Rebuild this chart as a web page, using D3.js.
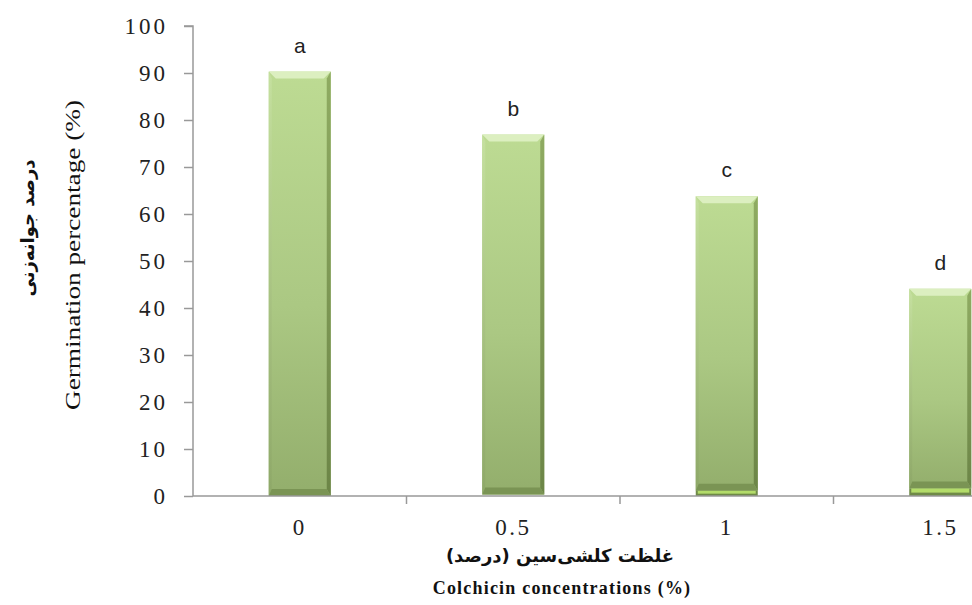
<!DOCTYPE html>
<html>
<head>
<meta charset="utf-8">
<script src="https://cdn.jsdelivr.net/npm/d3@7"></script>
<style>
  body { margin: 0; background: #fff; }
  svg { display: block; }
</style>
</head>
<body>
<svg class="mainSvg" width="972" height="605"></svg>
<script>
// colchicine treatments and germination (%)
var concentrations = ["0", "0.5", "1", "1.5"];
var germination = [90.3, 76.9, 63.8, 44.1];
var baseSegment = [0, 0.3, 1.1, 1.6];   // thin lower segment seen at the bar feet
var letters = ["a", "b", "c", "d"];
var yTicks = [0, 10, 20, 30, 40, 50, 60, 70, 80, 90, 100];

var svg = d3.select(".mainSvg");
var plotLeft = 193, plotTop = 26, plotBottom = 496;
var step = 213.5;

var x = d3.scaleBand()
  .domain(concentrations)
  .range([plotLeft, plotLeft + step * concentrations.length]);

var y = d3.scaleLinear()
  .domain([0, 100])
  .range([plotBottom, plotTop]);

var barW = 62;
var bev = 7;

// gradients
var defs = svg.append("defs");
var g = defs.append("linearGradient").attr("id", "barFill")
  .attr("x1", 0).attr("y1", 0).attr("x2", 0).attr("y2", 1);
g.append("stop").attr("offset", "0%").attr("stop-color", "#bddb93");
g.append("stop").attr("offset", "55%").attr("stop-color", "#abc883");
g.append("stop").attr("offset", "100%").attr("stop-color", "#93ae6c");

var sideL = defs.append("linearGradient").attr("id", "sideL")
  .attr("x1", 0).attr("y1", 0).attr("x2", 0).attr("y2", 1);
sideL.append("stop").attr("offset", "0%").attr("stop-color", "#c5e09f");
sideL.append("stop").attr("offset", "100%").attr("stop-color", "#8ea868");

var sideR = defs.append("linearGradient").attr("id", "sideR")
  .attr("x1", 0).attr("y1", 0).attr("x2", 0).attr("y2", 1);
sideR.append("stop").attr("offset", "0%").attr("stop-color", "#8fab62");
sideR.append("stop").attr("offset", "100%").attr("stop-color", "#6c8547");

var drawBevelBar = function(cx, y0, y1, topColor) {
  var x0 = cx - barW / 2, x1 = cx + barW / 2;
  var h = y0 - y1;
  var b = Math.min(bev, h / 2);
  var grp = svg.append("g");
  grp.append("rect")
    .attr("x", x0).attr("y", y1)
    .attr("width", barW).attr("height", h)
    .attr("fill", "url(#barFill)");
  // top bevel
  grp.append("polygon")
    .attr("points", [[x0, y1], [x1, y1], [x1 - b, y1 + b], [x0 + b, y1 + b]].join(" "))
    .attr("fill", topColor);
  // left bevel
  grp.append("polygon")
    .attr("points", [[x0, y1], [x0 + 3, y1 + b], [x0 + 3, y0 - b], [x0, y0]].join(" "))
    .attr("fill", "url(#sideL)");
  // right bevel
  grp.append("polygon")
    .attr("points", [[x1, y1], [x1 - 4, y1 + b], [x1 - 4, y0 - b], [x1, y0]].join(" "))
    .attr("fill", "url(#sideR)");
  // bottom bevel
  grp.append("polygon")
    .attr("points", [[x0, y0], [x0 + 3, y0 - b], [x1 - 4, y0 - b], [x1, y0]].join(" "))
    .attr("fill", "#7a9454");
};

concentrations.forEach(function(c, i) {
  var cx = x(c) + x.bandwidth() / 2;
  var yBase = y(baseSegment[i]);
  var yTop = y(germination[i]);
  drawBevelBar(cx, yBase, yTop, "#dcefc0");
  if (baseSegment[i] > 0.5) {
    var y0 = y(0);
    var sx0 = cx - barW / 2;
    svg.append("rect").attr("x", sx0).attr("y", yBase)
      .attr("width", barW).attr("height", y0 - yBase).attr("fill", "#6f8a48");
    svg.append("rect").attr("x", sx0 + 2).attr("y", yBase)
      .attr("width", barW - 4).attr("height", Math.max(2, (y0 - yBase) * 0.55))
      .attr("fill", "#b3dc6a");
  }
});

// letters above bars
svg.selectAll(".letter")
  .data(concentrations)
  .enter().append("text")
  .attr("class", "letter")
  .attr("x", function(d) { return x(d) + x.bandwidth() / 2; })
  .attr("y", function(d, i) { return y(germination[i]) - 19; })
  .attr("text-anchor", "middle")
  .attr("font-family", "Liberation Sans, Arial, sans-serif")
  .attr("font-size", 21)
  .attr("fill", "#222")
  .text(function(d, i) { return letters[i]; });

// y axis
var yAxis = d3.axisLeft(y).tickValues(yTicks).tickSize(9).tickPadding(16);
var yg = svg.append("g")
  .attr("transform", "translate(" + plotLeft + ",0)")
  .call(yAxis);
yg.select(".domain").attr("stroke", "#999").attr("stroke-width", 1.5)
  .attr("d", "M-9," + y(100) + "H0V" + y(0));
yg.selectAll(".tick line").attr("stroke", "#999").attr("stroke-width", 1.5);
yg.selectAll(".tick text")
  .attr("font-family", "Liberation Serif, Times New Roman, serif")
  .attr("font-size", 23)
  .attr("letter-spacing", 3)
  .attr("fill", "#222");

// x axis
var boundaries = concentrations.slice(1).map(function(c) { return x(c); });
var xg = svg.append("g").attr("transform", "translate(0," + plotBottom + ")");
xg.append("line")
  .attr("x1", plotLeft).attr("x2", x.range()[1])
  .attr("stroke", "#999").attr("stroke-width", 1.5);
xg.selectAll(".xtick")
  .data(boundaries)
  .enter().append("line")
  .attr("class", "xtick")
  .attr("x1", function(d) { return d; }).attr("x2", function(d) { return d; })
  .attr("y1", 0).attr("y2", 8)
  .attr("stroke", "#999").attr("stroke-width", 1.5);
xg.selectAll(".xlabel")
  .data(concentrations)
  .enter().append("text")
  .attr("class", "xlabel")
  .attr("x", function(d) { return x(d) + x.bandwidth() / 2; })
  .attr("y", 39)
  .attr("text-anchor", "middle")
  .attr("font-family", "Liberation Serif, Times New Roman, serif")
  .attr("font-size", 23)
  .attr("letter-spacing", 2.5)
  .attr("fill", "#222")
  .text(function(d) { return d; });

// x titles
svg.append("text")
  .attr("x", 560).attr("y", 562)
  .attr("text-anchor", "middle")
  .attr("font-family", "DejaVu Sans, Noto Sans, sans-serif")
  .attr("font-weight", "bold")
  .attr("font-size", 18)
  .attr("fill", "#111")
  .text("غلظت کلشی‌سین (درصد)");
svg.append("text")
  .attr("x", 562).attr("y", 594)
  .attr("text-anchor", "middle")
  .attr("font-family", "Liberation Serif, Times New Roman, serif")
  .attr("font-weight", "bold")
  .attr("font-size", 18)
  .attr("letter-spacing", 1.2)
  .attr("fill", "#111")
  .text("Colchicin concentrations (%)");

// y titles
svg.append("text")
  .attr("transform", "translate(34,228) rotate(-90)")
  .attr("text-anchor", "middle")
  .attr("font-family", "DejaVu Sans, Noto Sans, sans-serif")
  .attr("font-weight", "bold")
  .attr("font-size", 18)
  .attr("fill", "#111")
  .text("درصد جوانه‌زنی");
svg.append("text")
  .attr("transform", "translate(80,255) rotate(-90)")
  .attr("text-anchor", "middle")
  .attr("font-family", "Liberation Serif, Times New Roman, serif")
  .attr("font-size", 22)
  .attr("textLength", 310)
  .attr("lengthAdjust", "spacingAndGlyphs")
  .attr("fill", "#111")
  .text("Germination percentage (%)");
</script>
</body>
</html>
